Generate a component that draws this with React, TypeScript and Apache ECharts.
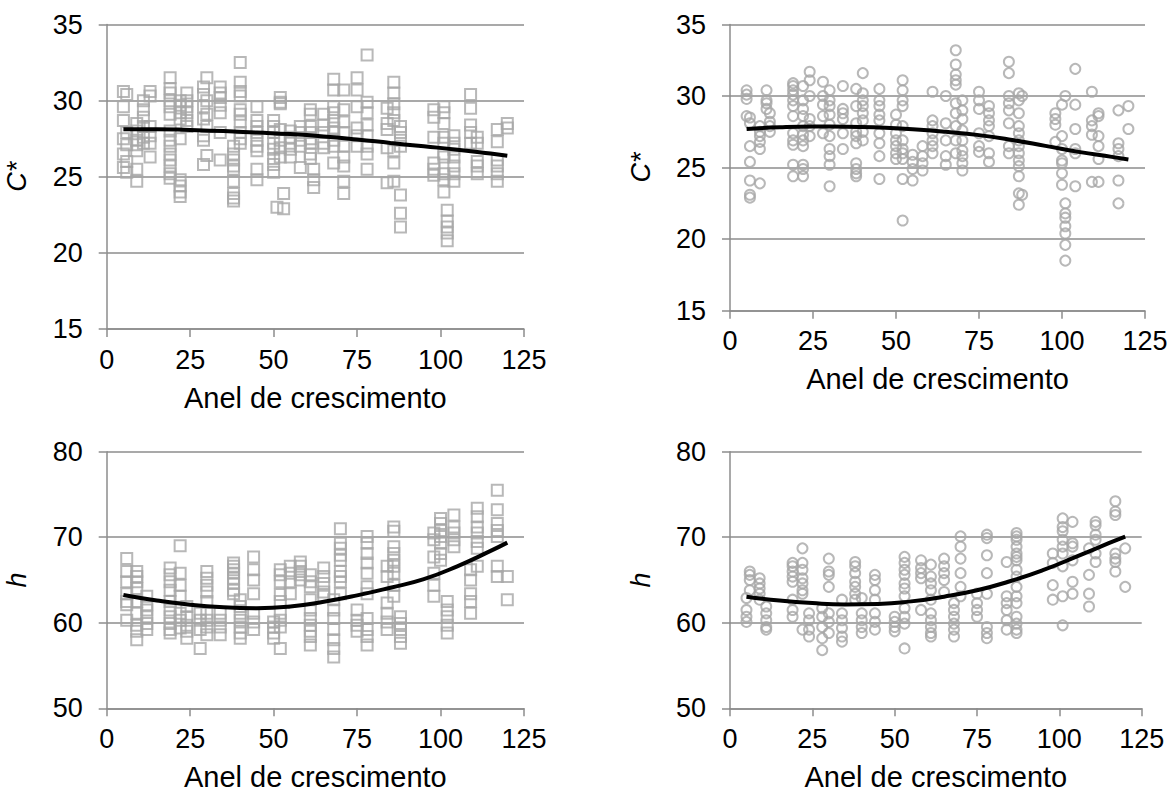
import React, { useEffect, useRef } from "react";
import * as echarts from "echarts";

// ---- Data (x = anel de crescimento) ----
const xTicks = [0, 25, 50, 75, 100, 125];
const xTitle = "Anel de crescimento";

// C* – squares (top-left)
const cStarSquares: [number, number][] = [
  [5,30.6],[5,29.6],[5,28.7],[5,27.5],[5,26.5],[5,25.6],
  [6,30.4],[6,27.9],[6,27.1],[6,26.0],[6,25.3],
  [9,28.5],[9,28.0],[9,27.4],[9,27.1],[9,26.7],[9,25.5],[9,24.7],
  [11,30.0],[11,29.4],[11,28.9],[11,28.3],[11,27.6],[11,27.2],
  [13,30.6],[13,30.3],[13,28.3],[13,27.7],[13,27.2],[13,26.3],
  [19,31.5],[19,30.8],[19,30.5],[19,30.0],[19,29.6],[19,29.1],[19,28.0],[19,27.4],[19,27.0],[19,26.5],[19,26.1],[19,25.7],[19,25.2],[19,24.9],
  [22,30.0],[22,29.7],[22,29.2],[22,28.8],[22,27.5],[22,24.8],[22,24.4],[22,24.0],[22,23.7],
  [24,30.5],[24,30.0],[24,29.6],[24,29.2],[24,28.7],[24,28.3],
  [29,30.9],[29,30.4],[29,29.6],[29,28.8],[29,27.7],[29,27.4],[29,25.8],
  [30,31.5],[30,30.0],[30,29.1],[30,28.3],[30,26.4],
  [34,30.9],[34,30.5],[34,30.2],[34,29.7],[34,29.2],[34,27.9],[34,26.1],
  [38,27.0],[38,26.5],[38,26.1],[38,25.7],[38,25.5],[38,24.7],[38,23.9],[38,23.6],[38,23.4],
  [40,32.5],[40,31.2],[40,30.6],[40,30.3],[40,29.4],[40,29.1],[40,28.6],[40,27.9],[40,27.5],[40,27.2],
  [45,29.6],[45,28.7],[45,28.3],[45,27.9],[45,27.4],[45,27.0],[45,26.7],[45,25.5],[45,24.8],
  [50,28.7],[50,28.3],[50,27.9],[50,27.2],[50,26.8],[50,26.2],[50,25.8],[50,25.3],
  [51,23.0],
  [52,30.2],[52,29.9],[52,29.8],[52,28.1],[52,27.4],[52,26.9],[52,26.3],
  [53,23.9],[53,22.9],
  [55,28.0],[55,27.6],[55,27.2],[55,26.8],[55,26.3],
  [58,28.3],[58,27.9],[58,27.4],[58,27.0],[58,25.6],
  [61,29.4],[61,29.1],[61,28.3],[61,27.9],[61,27.5],[61,27.2],[61,26.5],[61,26.2],
  [62,25.5],[62,24.8],[62,24.3],
  [65,29.1],[65,28.4],[65,27.9],[65,27.2],[65,26.9],
  [68,31.4],[68,30.7],[68,29.6],[68,29.2],[68,28.7],[68,28.2],[68,27.9],[68,27.4],[68,27.0],[68,25.9],
  [71,30.7],[71,29.4],[71,28.6],[71,27.9],[71,27.0],[71,26.3],[71,25.7],[71,24.7],[71,23.9],
  [75,31.5],[75,30.7],[75,29.6],[75,28.2],[75,27.7],[75,27.0],
  [78,33.0],[78,29.9],[78,29.2],[78,28.4],[78,27.7],[78,27.0],[78,26.5],[78,25.5],
  [84,29.5],[84,28.5],[84,28.1],[84,26.9],[84,24.6],
  [86,31.2],[86,30.5],[86,29.8],[86,29.2],[86,28.7],[86,26.7],[86,25.9],[86,24.7],
  [88,28.3],[88,27.9],[88,27.4],[88,27.0],[88,23.8],[88,22.6],[88,21.7],
  [98,29.4],[98,28.9],[98,27.6],[98,25.9],[98,25.5],[98,25.1],
  [101,29.6],[101,29.2],[101,28.5],[101,27.6],[101,27.2],[101,26.5],[101,26.3],[101,25.2],[101,24.8],[101,24.0],
  [102,22.8],[102,22.1],[102,21.7],[102,21.3],[102,20.8],
  [104,27.7],[104,27.2],[104,26.8],[104,26.3],[104,25.7],[104,25.2],[104,24.7],
  [109,30.4],[109,29.5],[109,28.4],[109,27.9],[109,27.2],
  [111,27.6],[111,27.2],[111,26.0],[111,25.7],[111,25.2],
  [117,28.1],[117,27.3],[117,26.1],[117,25.7],[117,25.2],[117,24.7],
  [120,28.5],[120,28.2],
];
const cStarSquaresTrend: [number, number][] = [
  [5,28.12],[15,28.12],[25,28.07],[35,28.0],[45,27.9],[55,27.8],[65,27.65],[75,27.45],[85,27.22],[95,27.0],[105,26.78],[115,26.52],[120,26.38],
];

// C* – circles (top-right)
const cStarCircles: [number, number][] = [
  [5,30.4],[5,30.1],[5,29.8],[5,28.6],
  [6,28.5],[6,28.1],[6,26.5],[6,25.4],[6,24.1],[6,23.1],[6,22.9],
  [9,27.9],[9,27.5],[9,27.2],[9,26.8],[9,26.3],[9,23.9],
  [11,30.4],[11,29.7],[11,29.5],[11,29.1],
  [12,28.8],[12,28.2],[12,27.9],[12,27.5],
  [19,30.9],[19,30.7],[19,30.4],[19,30.1],[19,29.7],[19,29.3],[19,28.6],[19,27.4],[19,26.9],[19,26.6],[19,25.2],[19,24.4],
  [22,30.7],[22,29.7],[22,29.1],[22,28.6],[22,27.9],[22,27.3],[22,26.9],[22,26.5],[22,25.2],[22,24.9],[22,24.4],
  [24,31.7],[24,31.1],[24,30.0],[24,28.4],[24,27.9],[24,27.2],
  [28,31.0],[28,30.0],[28,29.4],[28,28.6],[28,27.4],
  [30,30.4],[30,29.7],[30,29.3],[30,28.7],[30,28.0],[30,27.2],[30,26.3],[30,25.8],[30,25.2],[30,23.7],
  [34,30.7],[34,29.1],[34,28.8],[34,28.4],[34,27.4],[34,26.3],
  [38,30.5],[38,29.3],[38,28.1],[38,27.5],[38,27.2],[38,26.7],[38,25.3],[38,24.9],[38,24.6],[38,24.4],
  [40,31.6],[40,30.2],[40,29.7],[40,29.3],[40,28.8],[40,28.3],[40,27.5],[40,26.9],
  [45,30.5],[45,29.7],[45,29.3],[45,28.7],[45,28.3],[45,27.4],[45,26.7],[45,25.8],[45,24.2],
  [50,28.7],[50,28.0],[50,27.4],[50,26.9],[50,26.5],[50,26.0],[50,25.6],
  [52,31.1],[52,30.4],[52,29.7],[52,29.3],[52,27.9],[52,26.9],[52,26.3],[52,26.0],[52,25.6],[52,24.2],[52,21.3],
  [55,25.9],[55,25.4],[55,24.9],[55,24.1],
  [58,26.5],[58,25.8],[58,25.3],[58,24.8],
  [61,30.3],[61,28.3],[61,27.9],[61,27.4],[61,26.9],[61,26.5],[61,26.0],
  [65,30.0],[65,28.1],[65,26.9],[65,25.8],[65,25.2],
  [68,33.2],[68,32.2],[68,31.5],[68,31.1],[68,30.8],[68,29.5],[68,28.8],[68,27.9],[68,26.9],[68,26.0],
  [70,29.7],[70,29.0],[70,28.4],[70,27.6],[70,26.9],[70,26.2],[70,25.8],[70,25.3],[70,24.8],
  [75,30.3],[75,29.7],[75,29.1],[75,27.4],[75,26.5],[75,26.1],
  [78,29.3],[78,28.8],[78,28.3],[78,27.9],[78,27.2],[78,26.0],[78,25.4],
  [84,32.4],[84,31.6],[84,30.0],[84,29.5],[84,29.0],[84,28.1],[84,26.5],[84,26.0],
  [87,30.2],[87,29.7],[87,28.8],[87,27.9],[87,27.4],[87,26.9],[87,26.5],[87,26.0],[87,25.5],[87,25.1],[87,24.4],[87,23.2],[87,22.4],
  [88,30.0],[88,23.1],
  [98,28.8],[98,28.4],[98,28.0],[98,26.8],
  [100,29.4],[100,27.2],[100,26.3],[100,25.5],[100,25.3],[100,24.6],[100,23.8],
  [101,30.0],[101,22.5],[101,21.8],[101,21.5],[101,20.9],[101,20.4],[101,19.6],[101,18.5],
  [104,31.9],[104,29.4],[104,27.7],[104,26.3],[104,26.0],[104,23.7],
  [109,30.3],[109,28.3],[109,27.9],[109,27.3],[109,24.0],
  [111,28.8],[111,28.6],[111,27.2],[111,26.5],[111,25.6],[111,24.0],
  [117,29.0],[117,26.7],[117,26.3],[117,25.8],[117,24.1],[117,22.5],
  [120,29.3],[120,27.7],
];
const cStarCirclesTrend: [number, number][] = [
  [5,27.7],[15,27.82],[25,27.87],[35,27.86],[45,27.8],[55,27.68],[65,27.5],[75,27.27],[85,26.93],[95,26.52],[105,26.1],[115,25.75],[120,25.57],
];

// h – squares (bottom-left)
const hSquares: [number, number][] = [
  [6,67.5],[6,66.0],[6,64.8],[6,63.4],[6,62.5],[6,62.1],[6,60.3],
  [9,66.0],[9,65.4],[9,64.8],[9,64.0],[9,62.5],[9,61.1],[9,59.7],[9,59.0],[9,58.0],
  [12,63.1],[12,62.1],[12,61.5],[12,60.7],[12,59.9],[12,59.2],
  [19,66.4],[19,65.6],[19,64.8],[19,63.8],[19,62.5],[19,61.5],[19,60.7],[19,59.9],[19,59.2],[19,58.8],
  [22,69.0],[22,65.8],[22,64.4],[22,63.1],[22,61.1],[22,60.3],[22,59.4],
  [24,61.9],[24,60.7],[24,59.7],[24,59.0],[24,58.2],
  [28,61.1],[28,60.3],[28,59.2],[28,57.0],
  [30,66.0],[30,65.2],[30,64.4],[30,63.6],[30,62.5],[30,61.1],[30,60.3],[30,59.5],[30,58.6],
  [34,61.1],[34,60.3],[34,59.5],[34,58.6],
  [38,67.0],[38,66.6],[38,66.2],[38,65.8],[38,65.2],[38,64.6],[38,63.8],[38,63.4],
  [40,62.7],[40,61.9],[40,61.1],[40,60.3],[40,59.5],[40,58.8],[40,58.2],
  [44,67.7],[44,66.2],[44,65.0],[44,63.4],[44,61.1],[44,60.1],[44,59.2],
  [50,60.1],[50,59.5],[50,58.8],[50,58.2],
  [52,66.2],[52,65.6],[52,64.8],[52,63.3],[52,62.5],[52,61.1],[52,60.3],[52,59.5],[52,57.0],
  [55,66.6],[55,65.8],[55,64.8],[55,63.4],
  [58,67.1],[58,66.6],[58,66.0],[58,65.6],[58,65.0],
  [61,65.6],[61,64.8],[61,64.2],[61,62.7],[61,61.5],[61,60.5],[61,59.7],[61,59.0],[61,58.4],[61,57.4],
  [65,66.4],[65,65.4],[65,64.6],[65,63.6],[65,63.1],
  [68,62.7],[68,61.5],[68,60.5],[68,59.2],[68,58.0],[68,57.0],[68,56.0],
  [70,71.0],[70,69.3],[70,68.7],[70,67.9],[70,67.3],[70,66.0],[70,65.4],[70,64.8],[70,63.4],
  [75,61.5],[75,60.3],[75,59.7],[75,59.0],
  [78,70.1],[78,69.3],[78,68.1],[78,67.0],[78,65.8],[78,64.2],[78,63.4],[78,60.5],[78,59.2],[78,58.4],[78,57.4],
  [84,66.6],[84,65.4],[84,62.3],[84,61.1],[84,60.1],[84,59.2],
  [86,71.2],[86,70.7],[86,68.9],[86,68.1],[86,67.3],[86,66.6],[86,65.8],[86,64.4],[86,63.1],
  [88,60.7],[88,59.9],[88,59.2],[88,58.4],[88,57.6],
  [98,70.5],[98,69.7],[98,67.7],[98,65.8],[98,64.4],[98,63.1],
  [100,72.2],[100,71.6],[100,70.8],[100,70.1],[100,69.3],[100,68.1],[100,67.3],
  [102,62.5],[102,61.5],[102,60.7],[102,59.7],[102,58.8],
  [104,72.6],[104,71.2],[104,70.5],[104,69.7],[104,68.9],
  [109,66.2],[109,65.0],[109,63.4],[109,62.5],[109,61.1],
  [111,73.4],[111,72.4],[111,71.2],[111,70.5],[111,69.5],[111,68.7],[111,66.6],
  [117,75.5],[117,73.2],[117,71.6],[117,70.8],[117,70.1],[117,66.6],[117,65.4],
  [120,65.4],[120,62.7],
];
const hSquaresTrend: [number, number][] = [
  [5,63.25],[15,62.6],[25,62.1],[35,61.8],[45,61.7],[55,61.9],[65,62.45],[75,63.2],[85,64.1],[95,65.1],[105,66.6],[115,68.4],[120,69.37],
];

// h – circles (bottom-right)
const hCircles: [number, number][] = [
  [5,62.9],[5,61.5],[5,60.7],[5,60.1],
  [6,66.0],[6,65.6],[6,65.0],[6,63.8],
  [9,65.2],[9,64.6],[9,64.0],[9,63.4],[9,62.7],
  [11,61.9],[11,61.1],[11,60.3],[11,59.5],[11,59.2],
  [19,67.0],[19,66.6],[19,66.0],[19,65.4],[19,64.8],[19,62.7],[19,61.5],[19,60.7],
  [22,68.7],[22,67.0],[22,66.2],[22,65.2],[22,64.6],[22,63.8],[22,63.4],[22,59.2],
  [24,61.1],[24,60.3],[24,59.2],[24,58.4],
  [28,61.7],[28,60.7],[28,59.5],[28,58.2],[28,56.8],
  [30,67.5],[30,66.0],[30,65.6],[30,64.2],[30,61.1],[30,60.1],[30,58.8],
  [34,62.7],[34,61.1],[34,60.3],[34,59.4],[34,58.4],[34,57.8],
  [38,67.1],[38,66.6],[38,65.8],[38,64.8],[38,64.2],[38,63.4],[38,62.7],
  [40,62.9],[40,61.1],[40,60.3],[40,59.5],[40,58.8],
  [44,65.6],[44,65.0],[44,63.8],[44,62.7],[44,61.1],[44,60.1],[44,59.2],
  [50,60.7],[50,60.1],[50,59.5],[50,59.0],
  [53,67.7],[53,67.0],[53,66.2],[53,65.6],[53,64.6],[53,64.0],[53,63.1],[53,61.7],[53,60.7],[53,59.9],[53,57.0],
  [58,67.3],[58,66.4],[58,65.8],[58,65.2],[58,61.5],
  [61,66.8],[61,65.4],[61,64.6],[61,63.8],[61,62.7],[61,61.1],[61,60.3],[61,59.5],[61,58.8],[61,58.4],
  [65,67.5],[65,66.6],[65,65.8],[65,65.0],[65,63.6],
  [68,62.3],[68,61.5],[68,60.7],[68,59.9],[68,59.2],[68,58.4],
  [70,70.1],[70,68.9],[70,67.5],[70,65.8],[70,64.2],[70,63.1],
  [75,63.4],[75,62.3],[75,61.5],[75,60.7],
  [78,70.3],[78,69.9],[78,67.9],[78,65.8],[78,63.4],[78,59.5],[78,58.8],[78,58.2],
  [84,67.1],[84,63.1],[84,62.3],[84,61.5],[84,60.3],[84,59.2],
  [87,70.5],[87,70.1],[87,69.7],[87,68.9],[87,68.1],[87,67.7],[87,67.3],[87,66.2],[87,65.4],[87,64.2],[87,63.1],[87,62.3],[87,60.7],[87,59.9],[87,59.2],[87,58.8],
  [98,68.1],[98,67.0],[98,64.4],[98,62.7],
  [101,72.2],[101,71.2],[101,70.7],[101,69.7],[101,68.9],[101,68.1],[101,66.6],[101,63.1],[101,59.7],
  [104,71.8],[104,69.3],[104,68.9],[104,67.3],[104,64.8],[104,63.4],
  [109,68.7],[109,65.6],[109,63.4],[109,61.9],
  [111,71.8],[111,71.4],[111,70.3],[111,69.7],[111,68.1],[111,67.1],
  [117,74.2],[117,73.0],[117,72.6],[117,68.1],[117,67.5],[117,67.1],[117,66.0],
  [120,68.7],[120,64.2],
];
const hCirclesTrend: [number, number][] = [
  [5,63.05],[15,62.6],[25,62.3],[35,62.15],[45,62.2],[55,62.5],[65,63.05],[75,63.8],[85,64.85],[95,66.15],[105,67.7],[115,69.3],[120,70.07],
];

const FONT = "'Liberation Sans', Arial, sans-serif";
const GRAY = "#8c8c8c";
const MARK = "#a6a6a6";

export default function App() {
  const ref = useRef<HTMLDivElement>(null);
  useEffect(() => {
    if (!ref.current) return;
    const chart = echarts.init(ref.current, null, { renderer: "svg" });

    const grids = [
      { left: 106.7, top: 24.5, width: 417.3, height: 304.5 },
      { left: 730, top: 24.5, width: 415, height: 286.2 },
      { left: 106.7, top: 451.7, width: 417.3, height: 256.6 },
      { left: 730, top: 451.7, width: 411.7, height: 256.6 },
    ];

    const xAxis = grids.map((_, i) => ({
      type: "value",
      gridIndex: i,
      min: xTicks[0],
      max: xTicks[xTicks.length - 1],
      interval: 25,
      name: xTitle,
      nameLocation: "middle",
      nameGap: 54,
      nameTextStyle: { fontFamily: FONT, fontSize: 29, color: "#000" },
      axisLine: { show: true, lineStyle: { color: GRAY, width: 1.5 } },
      axisTick: { show: true, inside: false, length: 8, lineStyle: { color: GRAY, width: 1.5 } },
      axisLabel: { fontFamily: FONT, fontSize: 27, color: "#000", margin: 17 },
      splitLine: { show: false },
    }));

    const yDefs = [
      { min: 15, max: 35, interval: 5, name: "C*" },
      { min: 15, max: 35, interval: 5, name: "C*" },
      { min: 50, max: 80, interval: 10, name: "h" },
      { min: 50, max: 80, interval: 10, name: "h" },
    ];
    const yAxis = yDefs.map((d, i) => ({
      type: "value",
      gridIndex: i,
      min: d.min,
      max: d.max,
      interval: d.interval,
      name: d.name,
      nameLocation: "middle",
      nameGap: 76,
      nameTextStyle: { fontFamily: FONT, fontSize: 27, color: "#000", fontStyle: "italic" },
      axisLine: { show: true, lineStyle: { color: GRAY, width: 1.5 } },
      axisTick: { show: true, inside: false, length: 8, lineStyle: { color: GRAY, width: 1.5 } },
      axisLabel: { fontFamily: FONT, fontSize: 27, color: "#000", margin: 24 },
      splitLine: { show: true, lineStyle: { color: GRAY, width: 1.5 } },
    }));

    const scatter = (data: [number, number][], idx: number, symbol: string, size: number) => ({
      type: "scatter",
      xAxisIndex: idx,
      yAxisIndex: idx,
      data,
      symbol,
      symbolSize: size,
      itemStyle: { color: "rgba(255,255,255,0)", borderColor: MARK, borderWidth: 2 },
      z: 2,
    });
    const trend = (data: [number, number][], idx: number) => ({
      type: "line",
      xAxisIndex: idx,
      yAxisIndex: idx,
      data,
      smooth: true,
      showSymbol: false,
      symbol: "none",
      lineStyle: { color: "#000", width: 4 },
      z: 5,
    });

    chart.setOption({
      animation: false,
      backgroundColor: "#fff",
      grid: grids,
      xAxis,
      yAxis,
      series: [
        scatter(cStarSquares, 0, "rect", 11),
        trend(cStarSquaresTrend, 0),
        scatter(cStarCircles, 1, "circle", 10),
        trend(cStarCirclesTrend, 1),
        scatter(hSquares, 2, "rect", 11),
        trend(hSquaresTrend, 2),
        scatter(hCircles, 3, "circle", 10),
        trend(hCirclesTrend, 3),
      ],
    });
    return () => chart.dispose();
  }, []);

  return (
    <div
      ref={ref}
      style={{ position: "absolute", left: 0, top: 0, width: 1176, height: 799 }}
    />
  );
}
